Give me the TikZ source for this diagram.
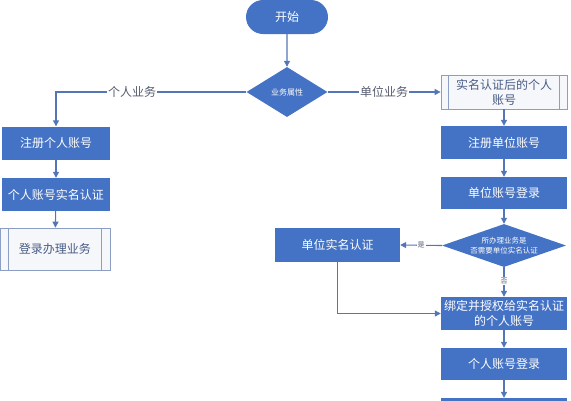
\documentclass[tikz,border=0pt]{standalone}
\usepackage{fontspec}
\setmainfont{Noto Sans CJK SC}
\usetikzlibrary{shapes.geometric,shapes.misc,arrows.meta}
\definecolor{boxblue}{RGB}{68,114,196}
\definecolor{linec}{RGB}{84,118,182}
\definecolor{preborder}{RGB}{140,158,196}
\definecolor{prefill}{RGB}{246,247,251}
\definecolor{pretext}{RGB}{72,92,132}
\definecolor{labtext}{RGB}{85,92,110}
\tikzset{
  proc/.style={rectangle, fill=boxblue, text=white, font=\fontsize{12}{15}\selectfont, inner sep=1pt, align=center},
  prebox/.style={rectangle, draw=preborder, line width=0.8pt, fill=prefill, text=pretext, font=\fontsize{12}{15}\selectfont, inner sep=1pt, align=center},
  term/.style={rounded rectangle, fill=boxblue, text=white, font=\fontsize{12}{15}\selectfont, inner sep=1pt},
  decision/.style={diamond, fill=boxblue, text=white, inner sep=0pt, align=center},
  arr/.style={draw=linec, line width=1.1pt, -{Triangle[width=6pt,length=6pt]}},
  lab/.style={fill=white, text=labtext, inner sep=1pt, font=\fontsize{12}{14}\selectfont},
  slab/.style={fill=white, text=labtext, inner sep=1pt, font=\fontsize{7}{8}\selectfont}
}
\begin{document}
\begin{tikzpicture}[x=1pt,y=-1pt]
\useasboundingbox (0,0) rectangle (571,400);
\clip (0,0) rectangle (571,400);
\node[term, minimum width=84pt, minimum height=34pt] (start) at (287,17) {开始};
\node[decision, shape aspect=1.62, minimum width=81pt, minimum height=50pt, font=\fontsize{8}{9}\selectfont] (d1) at (287,92) {业务属性};
\node[proc, minimum width=108pt, minimum height=33pt] (a1) at (56,143) {注册个人账号};
\node[proc, minimum width=108pt, minimum height=33pt] (a2) at (56,194.5) {个人账号实名认证};
\node[prebox, minimum width=110pt, minimum height=42pt] (a3) at (55,249) {登录办理业务};
\draw[preborder, line width=0.8pt] ([xshift=9pt]a3.north west) -- ([xshift=9pt]a3.south west)
  ([xshift=-9pt]a3.north east) -- ([xshift=-9pt]a3.south east);
\node[prebox, minimum width=126pt, minimum height=34pt] (b1) at (504,92) {实名认证后的个人\\账号};
\draw[preborder, line width=0.8pt] ([xshift=8pt]b1.north west) -- ([xshift=8pt]b1.south west)
  ([xshift=-8pt]b1.north east) -- ([xshift=-8pt]b1.south east);
\node[proc, minimum width=126pt, minimum height=33pt] (b2) at (504,142.5) {注册单位账号};
\node[proc, minimum width=126pt, minimum height=32pt] (b3) at (504,193) {单位账号登录};
\node[decision, shape aspect=2.88, minimum width=124pt, minimum height=43pt, font=\fontsize{7.5}{9.5}\selectfont] (d2) at (504,245.5) {所办理业务是\\否需要单位实名认证};
\node[proc, minimum width=125pt, minimum height=34pt] (b4) at (337.5,245) {单位实名认证};
\node[proc, minimum width=126pt, minimum height=33pt] (b5) at (504,313.5) {绑定并授权给实名认证\\的个人账号};
\node[proc, minimum width=126pt, minimum height=32pt] (b6) at (504,364) {个人账号登录};
\node[proc, minimum width=126pt, minimum height=33pt] (b7) at (504,414.5) {};
\draw[arr] (start) -- (d1);
\draw[arr] (d1.west) -| node[lab, pos=0.30] {个人业务} (a1.north);
\draw[arr] (d1.east) -- node[lab, pos=0.5] {单位业务} (b1.west);
\draw[arr] (a1) -- (a2);
\draw[arr] (a2) -- (a3);
\draw[arr] (b1) -- (b2);
\draw[arr] (b2) -- (b3);
\draw[arr] (b3) -- (d2);
\draw[arr] (d2.west) -- node[slab, pos=0.5] {是} (b4.east);
\draw[arr] (d2.south) -- node[slab, pos=0.47] {否} (b5.north);
\draw[arr] (b4.south) |- (b5.west);
\draw[arr] (b5) -- (b6);
\draw[arr] (b6) -- (b7);
\end{tikzpicture}
\end{document}
